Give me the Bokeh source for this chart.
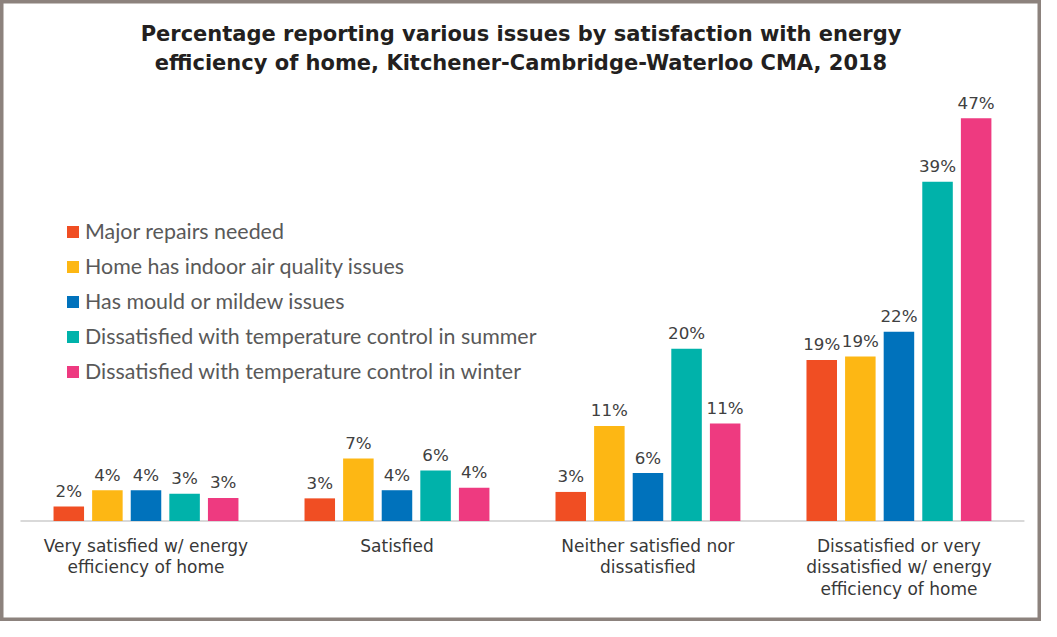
from bokeh.plotting import figure
from bokeh.models import Range1d, ColumnDataSource, Label
from bokeh.core.properties import value
from bokeh.embed import file_html
from bokeh.resources import INLINE

# ---- data ----
categories = [
    "Very satisfied w/ energy\nefficiency of home",
    "Satisfied",
    "Neither satisfied nor\ndissatisfied",
    "Dissatisfied or very\ndissatisfied w/ energy\nefficiency of home",
]
series_names = [
    "Major repairs needed",
    "Home has indoor air quality issues",
    "Has mould or mildew issues",
    "Dissatisfied with temperature control in summer",
    "Dissatisfied with temperature control in winter",
]
major_repairs = [1.7, 2.65, 3.4, 18.8]
air_quality = [3.6, 7.3, 11.1, 19.2]
mould = [3.6, 3.6, 5.6, 22.1]
temp_summer = [3.2, 5.9, 20.1, 39.6]
temp_winter = [2.7, 3.9, 11.4, 47.0]

major_labels = ["2%", "3%", "3%", "19%"]
air_labels = ["4%", "7%", "11%", "19%"]
mould_labels = ["4%", "4%", "6%", "22%"]
summer_labels = ["3%", "6%", "20%", "39%"]
winter_labels = ["3%", "4%", "11%", "47%"]

colors = ["#F04E23", "#FDB714", "#0072BC", "#00B2AA", "#EE3A80"]

series_values = [major_repairs, air_quality, mould, temp_summer, temp_winter]
series_labels = [major_labels, air_labels, mould_labels, summer_labels, winter_labels]

title_lines = [
    "Percentage reporting various issues by satisfaction with energy",
    "efficiency of home, Kitchener-Cambridge-Waterloo CMA, 2018",
]

# ---- layout ----
W, H = 1041, 621
p = figure(width=W, height=H,
           x_range=Range1d(-0.5797, 3.568), y_range=Range1d(-11.72, 60.75),
           output_backend="svg", toolbar_location=None,
           x_axis_location=None, y_axis_location=None, min_border=0)
p.grid.visible = False
p.background_fill_color = "white"
p.border_fill_color = "white"
p.outline_line_color = "#8c827d"
p.outline_line_width = 6

bar_step = 0.1538
bar_width = 0.1216
cat_idx = list(range(len(categories)))

# baseline
p.segment(x0=[-0.5], y0=[0], x1=[3.5], y1=[0], line_color="#d9d9d9", line_width=2)

for k, (vals, labs, name, col) in enumerate(zip(series_values, series_labels, series_names, colors)):
    xs = [i + (k - 2) * bar_step for i in cat_idx]
    src = ColumnDataSource(dict(x=xs, top=vals, lab=labs))
    p.vbar(x="x", top="top", bottom=0, width=bar_width, source=src,
           fill_color=col, line_color=None, legend_label=name)
    p.text(x="x", y="top", text="lab", source=src, y_offset=-15.5,
           text_align="center", text_baseline="alphabetic",
           text_font=value("DejaVu Sans"), text_font_size="16.7px",
           text_color="#404040")

# category labels
csrc = ColumnDataSource(dict(x=cat_idx, y=[0] * len(categories), t=categories))
p.text(x="x", y="y", text="t", source=csrc, y_offset=15,
       text_align="center", text_baseline="top", text_line_height=1.07,
       text_font=value("DejaVu Sans"), text_font_size="17px", text_color="#383838")

# title
for i, yy in enumerate([H - 33.7, H - 62.4]):
    p.add_layout(Label(x=W / 2, y=yy, x_units="screen", y_units="screen",
                       text=title_lines[i], text_align="center", text_baseline="alphabetic",
                       text_font="DejaVu Sans", text_font_style="bold",
                       text_font_size="21px", text_color="#231f20"))

# legend
lg = p.legend[0]
lg.location = (65, 237)
lg.padding = 0
lg.margin = 0
lg.spacing = 9
lg.glyph_width = 15
lg.glyph_height = 15
lg.label_height = 20
lg.label_standoff = 5
lg.label_text_font = "Lato"
lg.label_text_font_size = "21.4px"
lg.label_text_color = "#595959"
lg.border_line_alpha = 0
lg.background_fill_alpha = 0

open("out.html", "w").write(file_html(p, INLINE))
